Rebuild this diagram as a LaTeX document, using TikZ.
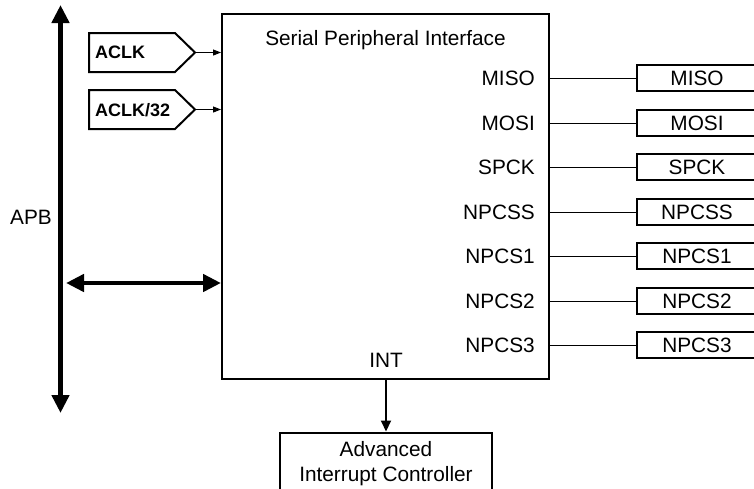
\documentclass[tikz,border=0pt]{standalone}
\usepackage{fontspec}
\setmainfont{Liberation Sans}
\usetikzlibrary{arrows.meta}
\begin{document}
\begin{tikzpicture}[x=1pt,y=-1pt,
  txt/.style={font=\fontsize{20.8}{25}\selectfont, inner sep=0pt},
  clklbl/.style={font=\fontsize{18}{22}\selectfont\bfseries, inner sep=0pt},
  outline/.style={draw, line width=2pt},
  sigbox/.style={outline, txt, minimum width=121pt, minimum height=26pt},
  wire/.style={line width=1pt},
  clkwire/.style={line width=1pt, -{Triangle[length=8pt,width=6pt]}},
  bus/.style={line width=4.5pt, {Triangle[length=18pt,width=17pt]}-{Triangle[length=18pt,width=17pt]}},
  intwire/.style={line width=2pt, -{Triangle[length=11pt,width=10pt]}},
]
\useasboundingbox (0,0) rectangle (754,488);

% main block
\node[outline, minimum width=327pt, minimum height=365pt, inner sep=0pt] (spi) at (385.5,196) {};
\node[txt, anchor=base] (title) at (385.5,45) {Serial Peripheral Interface};

% signals on the right
\foreach \n/\t/\y in {miso/MISO/78, mosi/MOSI/123, spck/SPCK/167, npcss/NPCSS/212,
                      npcsa/NPCS1/256, npcsb/NPCS2/301, npcsc/NPCS3/345} {
  \node[txt, anchor=east] (l\n) at (535,\y) {\t};
  \node[sigbox] (b\n) at (697,\y) {\t};
  \draw[wire] (b\n.west -| spi.east) -- (b\n.west);
}

% interrupt controller
\node[txt, anchor=base] (int) at (386,367) {INT};
\node[outline, txt, align=center, minimum width=212pt, minimum height=62pt] (aic) at (386,463.5) {Advanced\\Interrupt Controller};
\draw[intwire] (aic.north |- spi.south) -- (aic.north);

% APB bus
\node[txt] (apb) at (31,217.5) {APB};
\coordinate (apbtop) at (60.5,5);
\coordinate (apbbot) at (60.5,413);
\draw[bus] (apbbot) -- (apbtop);
\coordinate (busl) at (66,283);
\draw[bus] (busl) -- (busl -| spi.west);

% clocks
\draw[outline] (89,33) -- (175,33) -- (195,52.5) -- (175,72) -- (89,72) -- cycle;
\node[clklbl, anchor=base west] (aclk) at (95,58.5) {ACLK};
\coordinate (aclktip) at (195,52.5);
\draw[clkwire] (aclktip) -- (aclktip -| spi.west);

\draw[outline] (89,90) -- (175,90) -- (195,109.5) -- (175,129) -- (89,129) -- cycle;
\node[clklbl, anchor=base west] (aclkb) at (95,116) {ACLK/32};
\coordinate (aclkbtip) at (195,109.5);
\draw[clkwire] (aclkbtip) -- (aclkbtip -| spi.west);
\end{tikzpicture}
\end{document}
